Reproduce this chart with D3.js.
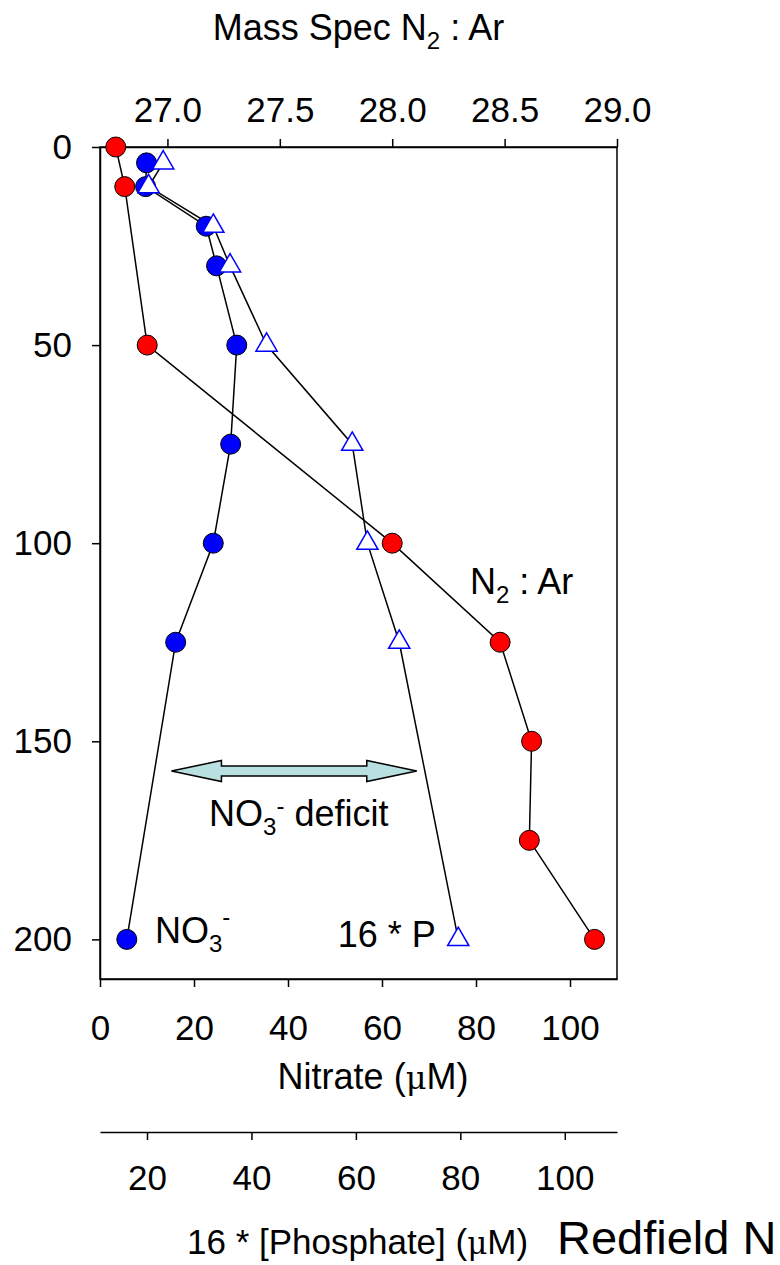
<!DOCTYPE html>
<html>
<head>
<meta charset="utf-8">
<script src="https://cdn.jsdelivr.net/npm/d3@7"></script>
<style>
  body { margin: 0; background: #fff; }
  svg text { font-family: "Liberation Sans", Arial, sans-serif; fill: #000; }
</style>
</head>
<body>
<div id="chart"></div>
<script>
// depth profiles
const n2arDepth = [0, 10, 50, 100, 125, 150, 175, 200];
const n2arValue = [26.77, 26.81, 26.91, 28.00, 28.48, 28.62, 28.61, 28.90];

const no3Depth = [4, 10, 20, 30, 50, 75, 100, 125, 200];
const no3Value = [9.9, 9.7, 22.6, 24.8, 29.1, 27.8, 24.1, 16.1, 5.7];
const p16Value = [23.1, 20.3, 32.7, 35.9, 42.9, 59.3, 62.2, 68.3, 79.6];

const depthTicks = [0, 50, 100, 150, 200];
const nitrateTicks = [0, 20, 40, 60, 80, 100];
const n2arTicks = [27.0, 27.5, 28.0, 28.5, 29.0];
const phosTicks = [20, 40, 60, 80, 100];

// annotation anchors in data units (nitrate, depth)
const deficitArrow = { from: 15.2, to: 67.4, depth: 157.5 };

const width = 780, height = 1265;
const plotL = 100, plotR = 617, plotT = 147, plotB = 979;
const fs = 36, tickFs = 35;

const svg = d3.select("#chart").append("svg")
    .attr("width", width)
    .attr("height", height);

const y = d3.scaleLinear().domain([0, 210]).range([plotT, plotB]);
const xN = d3.scaleLinear().domain([0, 110]).range([plotL, plotR]);
const xA = d3.scaleLinear().domain([26.7, 29.0]).range([plotL, plotR]);
const xP = d3.scaleLinear().domain([11, 110]).range([plotL, plotR]);

function styleAxis(g) {
    g.attr("font-family", null).attr("font-size", null);
    g.selectAll("path, line").attr("stroke", "#000").attr("stroke-width", 1.5);
    g.selectAll("text").attr("font-size", tickFs).attr("fill", "#000");
}

// frame
svg.append("rect")
    .attr("x", plotL).attr("y", plotT)
    .attr("width", plotR - plotL).attr("height", plotB - plotT)
    .attr("fill", "none").attr("stroke", "#000").attr("stroke-width", 1.5);

svg.append("g")
    .attr("transform", `translate(0,${plotT})`)
    .call(d3.axisTop(xA).tickValues(n2arTicks).tickFormat(d3.format(".1f"))
        .tickSize(8).tickSizeOuter(0).tickPadding(17))
    .call(styleAxis);

svg.append("g")
    .attr("transform", `translate(${plotL},0)`)
    .call(d3.axisLeft(y).tickValues(depthTicks).tickSize(8).tickSizeOuter(0).tickPadding(20))
    .call(styleAxis);

svg.append("g")
    .attr("transform", `translate(0,${plotB})`)
    .call(d3.axisBottom(xN).tickValues(nitrateTicks).tickSize(8).tickSizeOuter(0).tickPadding(28))
    .call(styleAxis);

svg.append("g")
    .attr("transform", "translate(0,1132)")
    .call(d3.axisBottom(xP).tickValues(phosTicks).tickSize(8).tickSizeOuter(0).tickPadding(25))
    .call(styleAxis);

// titles
const title = svg.append("text")
    .attr("x", (plotL + plotR) / 2).attr("y", 40)
    .attr("text-anchor", "middle").attr("font-size", fs);
title.append("tspan").text("Mass Spec N");
title.append("tspan").attr("font-size", 24).attr("dy", 9).text("2");
title.append("tspan").attr("dy", -9).text(" : Ar");

const nTitle = svg.append("text")
    .attr("x", 373).attr("y", 1089)
    .attr("text-anchor", "middle").attr("font-size", fs);
nTitle.append("tspan").text("Nitrate (");
nTitle.append("tspan").attr("font-family", "'DejaVu Serif', serif").attr("font-size", 32).text("μ");
nTitle.append("tspan").text("M)");

const pTitle = svg.append("text")
    .attr("x", 187).attr("y", 1254).attr("font-size", 35);
pTitle.append("tspan").text("16 * [Phosphate] (");
pTitle.append("tspan").attr("font-family", "'DejaVu Serif', serif").attr("font-size", 31).text("μ");
pTitle.append("tspan").text("M)");

svg.append("text")
    .attr("x", 557).attr("y", 1254).attr("font-size", 47)
    .text("Redfield N");

// lines
const lineN = d3.line().x(d => xN(d[0])).y(d => y(d[1]));
const lineP = d3.line().x(d => xP(d[0])).y(d => y(d[1]));
const lineA = d3.line().x(d => xA(d[0])).y(d => y(d[1]));

const no3Pts = no3Value.map((v, i) => [v, no3Depth[i]]);
const p16Pts = p16Value.map((v, i) => [v, no3Depth[i]]);
const n2arPts = n2arValue.map((v, i) => [v, n2arDepth[i]]);

[[no3Pts, lineN], [p16Pts, lineP], [n2arPts, lineA]].forEach(([pts, gen]) => {
    svg.append("path")
        .attr("d", gen(pts))
        .attr("fill", "none").attr("stroke", "#000").attr("stroke-width", 1.5);
});

svg.append("g").selectAll("circle")
    .data(no3Pts).join("circle")
    .attr("cx", d => xN(d[0])).attr("cy", d => y(d[1])).attr("r", 10)
    .attr("fill", "#0000ff").attr("stroke", "#000").attr("stroke-width", 1);

svg.append("g").selectAll("path")
    .data(p16Pts).join("path")
    .attr("d", d3.symbol(d3.symbolTriangle, 195))
    .attr("transform", d => `translate(${xP(d[0])},${y(d[1])})`)
    .attr("fill", "#fff").attr("stroke", "#0000ff").attr("stroke-width", 1.5);

svg.append("g").selectAll("circle")
    .data(n2arPts).join("circle")
    .attr("cx", d => xA(d[0])).attr("cy", d => y(d[1])).attr("r", 10)
    .attr("fill", "#ff0000").attr("stroke", "#000").attr("stroke-width", 1);

// deficit arrow
const ax0 = xN(deficitArrow.from), ax1 = xN(deficitArrow.to), ay = y(deficitArrow.depth);
const head = 50, hh = 10.5, sh = 5;
const arrowPts = [
    [ax0, ay], [ax0 + head, ay - hh], [ax0 + head, ay - sh],
    [ax1 - head, ay - sh], [ax1 - head, ay - hh], [ax1, ay],
    [ax1 - head, ay + hh], [ax1 - head, ay + sh], [ax0 + head, ay + sh],
    [ax0 + head, ay + hh]
];
svg.append("path")
    .attr("d", d3.line()(arrowPts) + "Z")
    .attr("fill", "#b9e0e0").attr("stroke", "#000").attr("stroke-width", 1.5);

// labels
const defLabel = svg.append("text")
    .attr("x", xN(23.2)).attr("y", y(171.4)).attr("font-size", fs);
defLabel.append("tspan").text("NO");
defLabel.append("tspan").attr("font-size", 24).attr("dy", 9).text("3");
defLabel.append("tspan").attr("font-size", 24).attr("dy", -21).text("-");
defLabel.append("tspan").attr("dy", 12).text(" deficit");

const no3Label = svg.append("text")
    .attr("x", xN(11.7)).attr("y", y(200.8)).attr("font-size", fs);
no3Label.append("tspan").text("NO");
no3Label.append("tspan").attr("font-size", 24).attr("dy", 9).text("3");
no3Label.append("tspan").attr("font-size", 24).attr("dy", -27).text("-");

svg.append("text")
    .attr("x", xN(50.6)).attr("y", y(201.8)).attr("font-size", fs)
    .text("16 * P");

const arLabel = svg.append("text")
    .attr("x", xN(78.7)).attr("y", y(112.7)).attr("font-size", fs);
arLabel.append("tspan").text("N");
arLabel.append("tspan").attr("font-size", 24).attr("dy", 9).text("2");
arLabel.append("tspan").attr("dy", -9).text(" : Ar");
</script>
</body>
</html>
